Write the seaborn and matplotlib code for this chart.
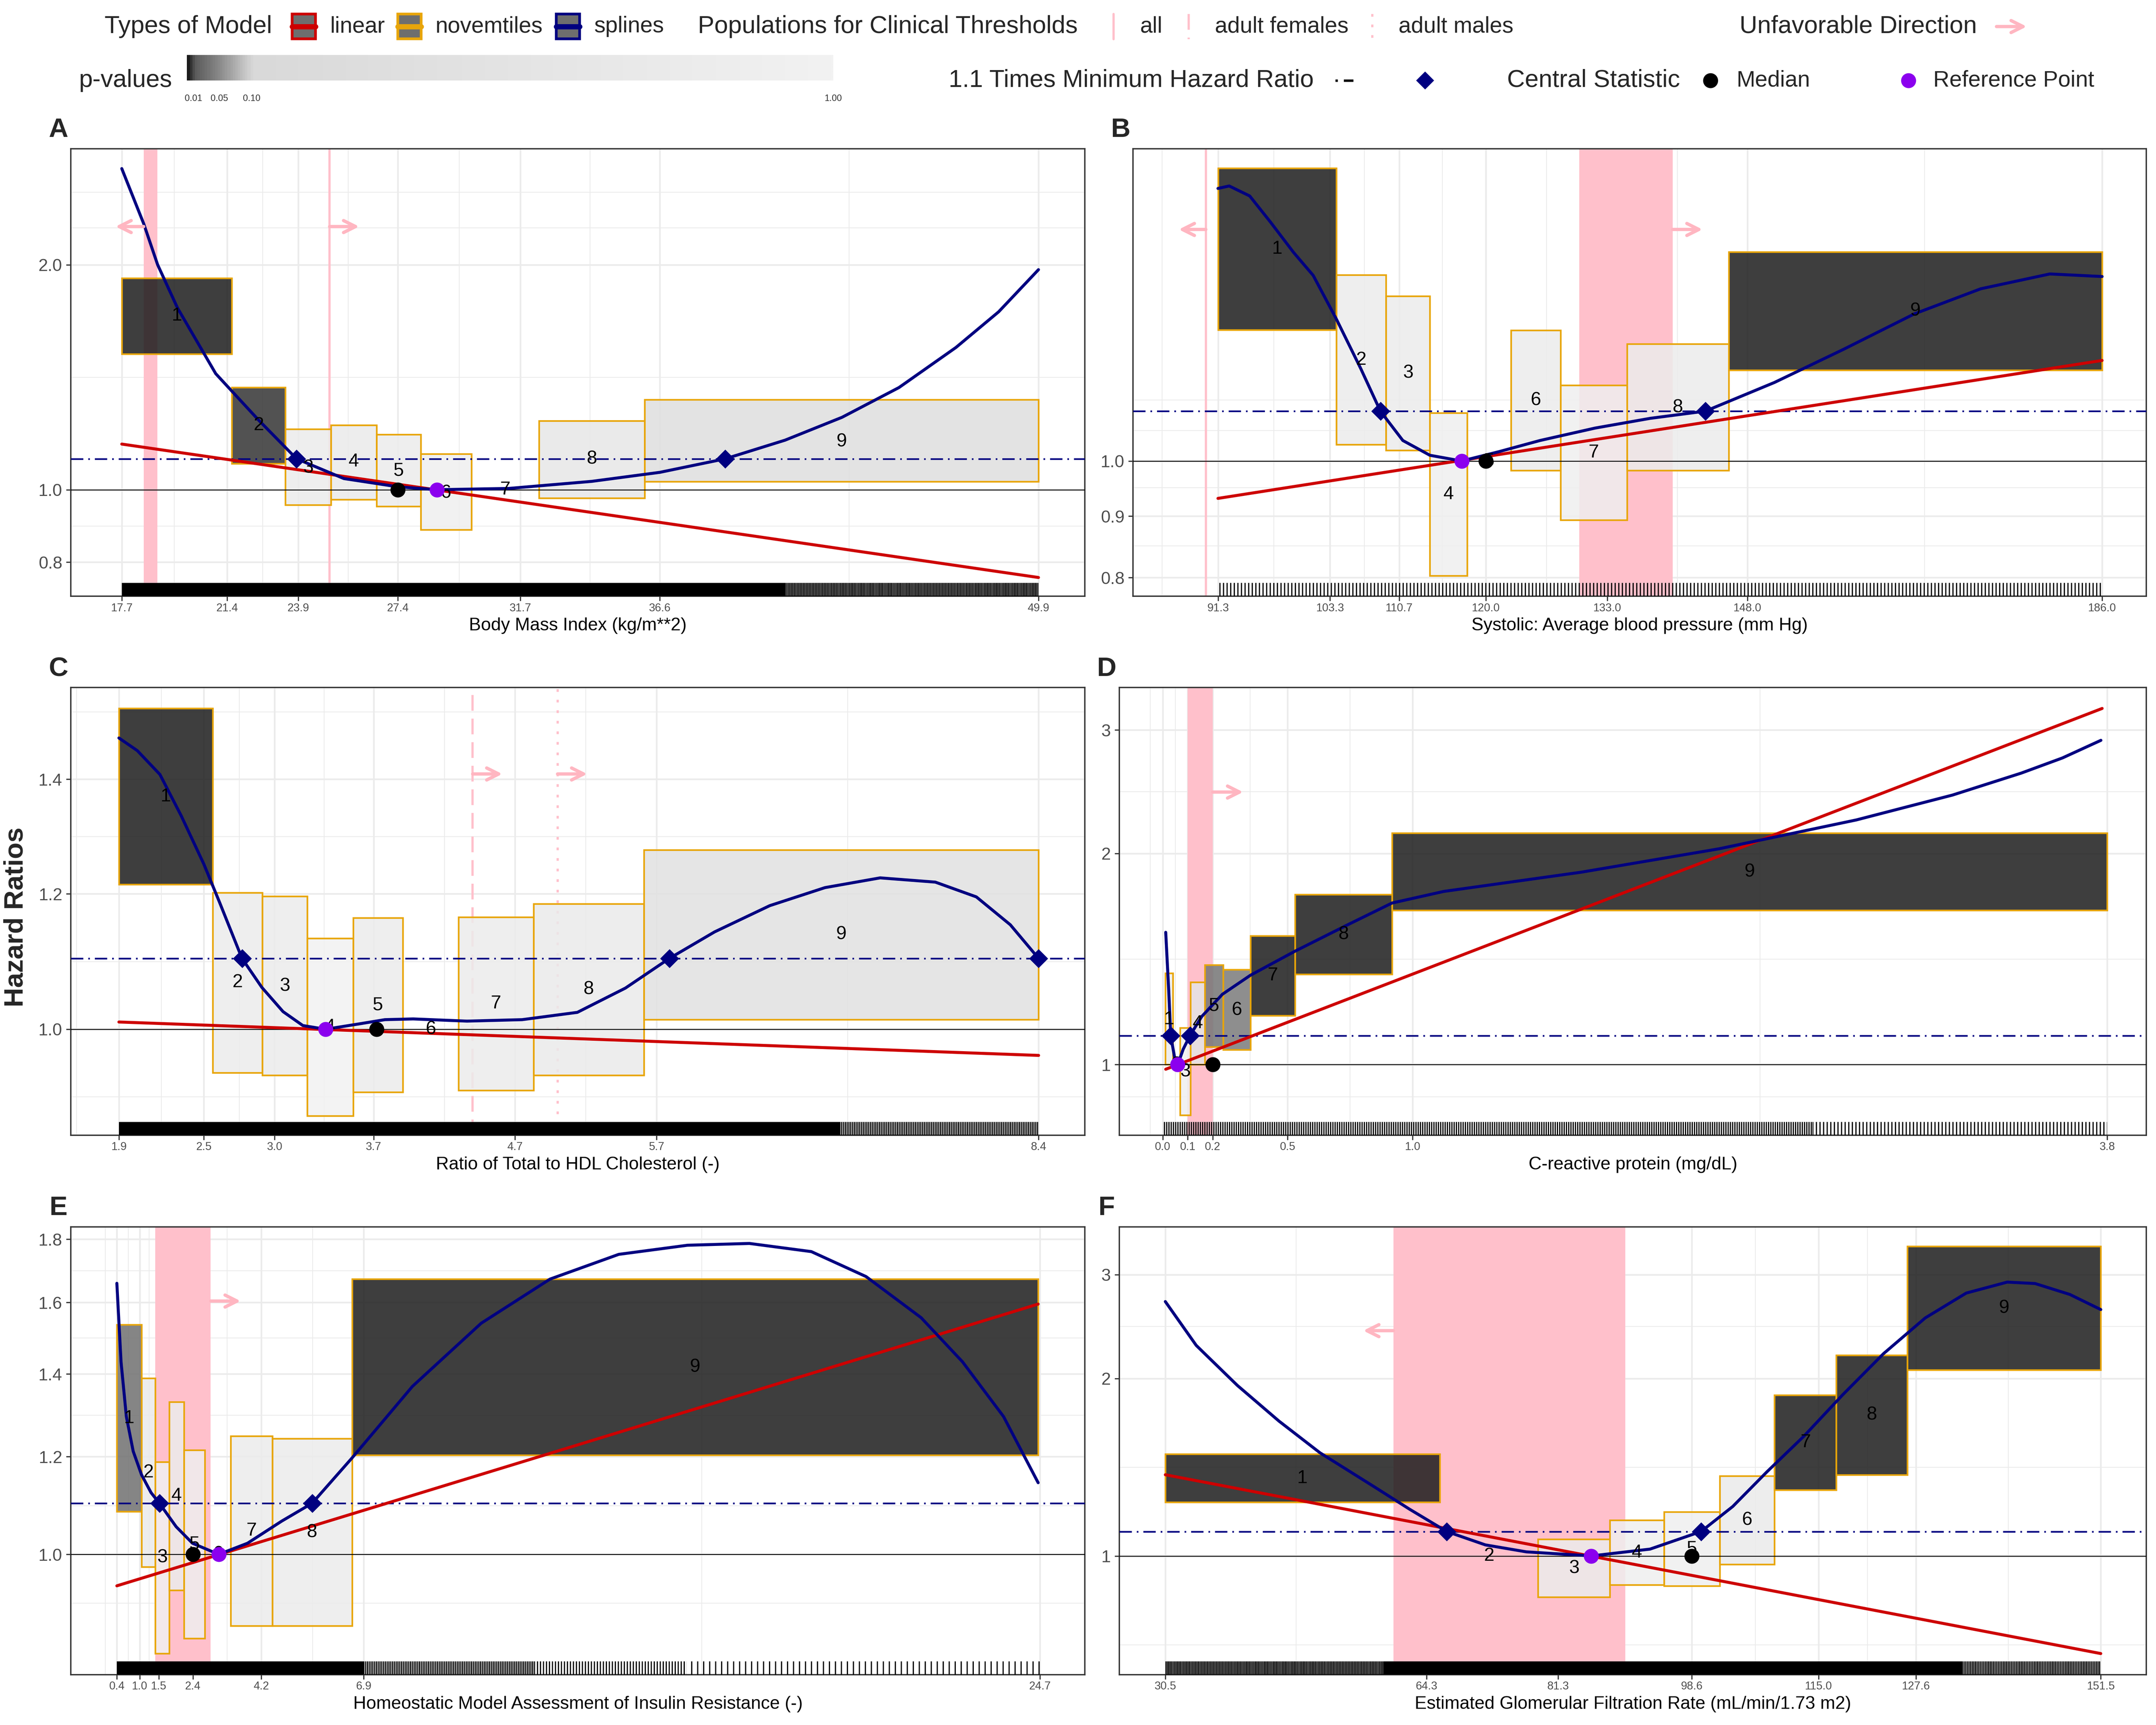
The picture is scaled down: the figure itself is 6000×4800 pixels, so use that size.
import numpy as np
import seaborn as sns
import matplotlib
matplotlib.use("Agg")
import matplotlib.pyplot as plt
from matplotlib.patches import Rectangle
from matplotlib.lines import Line2D
from matplotlib.colors import LinearSegmentedColormap, to_rgba

nan = np.nan

# ---------------- data ----------------
# A: Body Mass Index
A_cuts = [17.7, 21.57, 23.45, 25.05, 26.65, 28.2, 29.98, 32.35, 36.07, 49.9]
A_hr = [1.71, 1.22, 1.07, 1.09, 1.06, 0.99, 1.0, 1.10, 1.16]
A_lo = [1.52, 1.084, 0.954, 0.97, 0.95, 0.884, nan, 0.975, 1.026]
A_hi = [1.92, 1.37, 1.206, 1.22, 1.186, 1.117, nan, 1.237, 1.32]
A_p = [0.002, 0.006, 0.8, 0.7, 0.8, 0.9, nan, 0.6, 0.3]
A_spl_x = [17.7, 18.47, 18.96, 19.66, 21.0, 22.5, 23.84, 25.5, 27.4, 28.77, 31.3, 34.2,
           36.6, 38.9, 41.0, 43.0, 45.0, 47.0, 48.5, 49.9]
A_spl_y = [2.69, 2.27, 2.0, 1.75, 1.43, 1.24, 1.10, 1.035, 1.009, 1.0, 1.004, 1.026,
           1.055, 1.10, 1.165, 1.25, 1.37, 1.55, 1.73, 1.97]
A_lin_x = [17.7, 49.9]
A_lin_y = [1.151, 0.763]
A_median, A_ref = 27.4, 28.77
A_cross = [23.84, 38.9]
A_xticks = [17.7, 21.4, 23.9, 27.4, 31.7, 36.6, 49.9]
A_yticks = [0.8, 1.0, 2.0]
A_bands = [(18.47, 18.95)]
A_lines = [(25.0, "all")]
A_arrows = [(18.47, 17.48, 2.25), (25.0, 26.04, 2.25)]
A_rug = [(17.7, 41.0, 0), (41.0, 49.9, 12)]

# B: Systolic blood pressure
B_cuts = [91.3, 104.0, 109.3, 114.0, 118.0, 122.7, 128.0, 135.1, 146.0, 186.0]
B_hr = [1.50, 1.213, 1.183, 0.938, 1.0, 1.123, 1.016, 1.108, 1.333]
B_lo = [1.285, 1.032, 1.021, 0.803, nan, 0.982, 0.893, 0.982, 1.19]
B_hi = [1.75, 1.427, 1.371, 1.096, nan, 1.284, 1.156, 1.251, 1.492]
B_p = [0.002, 0.8, 0.8, 0.9, nan, 0.8, 0.9, 0.8, 0.002]
B_spl_x = [91.3, 92.5, 94.7, 96.9, 99.4, 101.5, 104.0, 106.6, 108.7, 111.1, 114.0, 117.4,
           121.4, 125.8, 131.7, 137.6, 143.5, 150.9, 158.3, 165.9, 173.0, 180.4, 186.0]
B_spl_y = [1.684, 1.692, 1.66, 1.58, 1.49, 1.426, 1.311, 1.193, 1.10, 1.04, 1.011, 1.0,
           1.018, 1.04, 1.065, 1.085, 1.10, 1.162, 1.238, 1.325, 1.39, 1.43, 1.423]
B_lin_x = [91.3, 186.0]
B_lin_y = [0.931, 1.212]
B_median, B_ref = 120.0, 117.4
B_cross = [108.7, 143.5]
B_xticks = [91.3, 103.3, 110.7, 120.0, 133.0, 148.0, 186.0]
B_yticks = [0.8, 0.9, 1.0]
B_bands = [(130.0, 140.0)]
B_lines = [(90.0, "all")]
B_arrows = [(90.0, 87.1, 1.557), (140.0, 143.2, 1.557)]
B_rug = [(91.3, 186.0, 5)]

# C: Ratio of total to HDL cholesterol
C_cuts = [1.9, 2.563, 2.913, 3.23, 3.555, 3.907, 4.30, 4.83, 5.61, 8.4]
C_hr = [1.368, 1.065, 1.06, 1.003, 1.033, 1.0, 1.035, 1.055, 1.136]
C_lo = [1.215, 0.943, 0.940, 0.890, 0.919, nan, 0.921, 0.940, 1.013]
C_hi = [1.54, 1.202, 1.196, 1.13, 1.162, nan, 1.163, 1.184, 1.273]
C_p = [0.001, 0.8, 0.8, 0.95, 0.8, nan, 0.8, 0.7, 0.4]
C_spl_x = [1.9, 2.03, 2.19, 2.34, 2.50, 2.61, 2.77, 2.91, 3.06, 3.20, 3.36, 3.59, 3.78,
           3.98, 4.36, 4.75, 5.14, 5.48, 5.79, 6.11, 6.50, 6.89, 7.28, 7.67, 7.96, 8.20, 8.4]
C_spl_y = [1.48, 1.455, 1.409, 1.333, 1.249, 1.187, 1.10, 1.058, 1.024, 1.005, 1.0, 1.007, 1.013,
           1.014, 1.011, 1.013, 1.023, 1.057, 1.10, 1.14, 1.181, 1.21, 1.226, 1.219, 1.195,
           1.151, 1.10]
C_lin_x = [1.9, 8.4]
C_lin_y = [1.0098, 0.9654]
C_median, C_ref = 3.72, 3.36
C_cross = [2.77, 5.79, 8.4]
C_xticks = [1.9, 2.5, 3.0, 3.7, 4.7, 5.7, 8.4]
C_yticks = [1.0, 1.2, 1.4]
C_bands = []
C_lines = [(4.4, "adult females"), (5.0, "adult males")]
C_arrows = [(4.4, 4.61, 1.41), (5.0, 5.21, 1.41)]
C_rug = [(1.9, 7.0, 0), (7.0, 8.4, 10)]

# D: C-reactive protein
D_cuts = [0.01, 0.0406, 0.0695, 0.111, 0.169, 0.242, 0.351, 0.529, 0.918, 3.78]
D_hr = [1.16, 1.0, 0.977, 1.145, 1.2125, 1.195, 1.34, 1.534, 1.884]
D_lo = [1.0, nan, 0.847, 1.0, 1.06, 1.05, 1.175, 1.346, 1.659]
D_hi = [1.35, nan, 1.128, 1.311, 1.387, 1.367, 1.527, 1.748, 2.14]
D_p = [0.7, nan, 0.9, 0.5, 0.035, 0.037, 0.002, 0.001, 0.001]
D_spl_x = [0.012, 0.024, 0.032, 0.049, 0.06, 0.082, 0.109, 0.156, 0.239, 0.351,
           0.529, 0.736, 0.918, 1.125, 1.675, 2.226, 2.776, 3.161, 3.436, 3.601, 3.755]
D_spl_y = [1.544, 1.275, 1.10, 1.017, 1.0, 1.052, 1.10, 1.171, 1.26, 1.341,
           1.451, 1.58, 1.70, 1.766, 1.881, 2.031, 2.233, 2.423, 2.604, 2.737, 2.90]
D_lin_x = [0.012, 3.76]
D_lin_y = [0.985, 3.22]
D_median, D_ref = 0.2, 0.06
D_cross = [0.032, 0.109]
D_xticks = [0.0, 0.1, 0.2, 0.5, 1.0, 3.78]
D_yticks = [1, 2, 3]
D_bands = [(0.1, 0.2)]
D_lines = []
D_arrows = [(0.2, 0.322, 2.447)]
D_rug = [(0.0, 2.6, 8), (2.6, 3.78, 5)]

# E: HOMA insulin resistance
E_cuts = [0.4, 1.05, 1.41, 1.775, 2.17, 2.72, 3.40, 4.49, 6.59, 24.65]
E_hr = [1.289, 1.165, 0.994, 1.115, 1.019, 1.0, 1.045, 1.042, 1.418]
E_lo = [1.083, 0.977, 0.831, 0.935, 0.855, nan, 0.875, 0.875, 1.203]
E_hi = [1.535, 1.389, 1.188, 1.329, 1.215, nan, 1.247, 1.241, 1.671]
E_p = [0.03, 0.7, 0.95, 0.8, 0.9, nan, 0.8, 0.8, 0.001]
E_spl_x = [0.4, 0.51, 0.65, 0.83, 1.05, 1.30, 1.52, 1.96, 2.39, 3.08, 3.84, 4.74, 5.54, 6.59,
           8.18, 9.99, 11.8, 13.61, 15.42, 17.05, 18.68, 20.12, 21.57, 22.66, 23.74, 24.65]
E_spl_y = [1.658, 1.432, 1.293, 1.212, 1.16, 1.122, 1.10, 1.053, 1.021, 1.0, 1.021, 1.064, 1.10, 1.197,
           1.368, 1.539, 1.671, 1.75, 1.78, 1.786, 1.759, 1.679, 1.555, 1.432, 1.293, 1.143]
E_lin_x = [0.4, 24.65]
E_lin_y = [0.943, 1.595]
E_median, E_ref = 2.4, 3.08
E_cross = [1.52, 5.54]
E_xticks = [0.4, 1.0, 1.5, 2.4, 4.2, 6.9, 24.7]
E_yticks = [1.0, 1.2, 1.4, 1.6, 1.8]
E_bands = [(1.41, 2.87)]
E_lines = []
E_arrows = [(2.87, 3.66, 1.604)]
E_rug = [(0.4, 6.9, 0), (6.9, 11.4, 10), (11.4, 15.4, 6), (15.4, 24.7, 3)]

# F: eGFR
F_cuts = [30.5, 66.0, 78.7, 88.0, 95.0, 102.2, 109.3, 117.3, 126.5, 151.5]
F_hr = [1.355, 1.0, 0.953, 1.013, 1.028, 1.15, 1.558, 1.734, 2.63]
F_lo = [1.233, nan, 0.851, 0.893, 0.889, 0.968, 1.294, 1.373, 2.066]
F_hi = [1.488, nan, 1.067, 1.15, 1.188, 1.366, 1.875, 2.19, 3.35]
F_p = [0.002, nan, 0.8, 0.9, 0.9, 0.7, 0.001, 0.001, 0.001]
F_spl_x = [30.5, 34.5, 39.8, 45.2, 50.5, 57.6, 62.1, 66.9, 71.9, 77.2, 85.6, 93.2, 99.8, 103.9,
           108.3, 113.1, 118.1, 123.4, 128.8, 134.1, 139.4, 143.0, 147.5, 151.5]
F_spl_y = [2.70, 2.275, 1.947, 1.693, 1.496, 1.308, 1.20, 1.10, 1.044, 1.016, 1.0, 1.027, 1.10, 1.213,
           1.388, 1.596, 1.875, 2.203, 2.533, 2.791, 2.913, 2.897, 2.776, 2.617]
F_lin_x = [30.5, 151.5]
F_lin_y = [1.373, 0.683]
F_median, F_ref = 98.6, 85.6
F_cross = [66.9, 99.8]
F_xticks = [30.5, 64.3, 81.3, 98.6, 115.0, 127.6, 151.5]
F_yticks = [1, 2, 3]
F_bands = [(60.0, 90.0)]
F_lines = []
F_arrows = [(60.0, 56.1, 2.41)]
F_rug = [(30.5, 58.7, 12), (58.7, 133.7, 0), (133.7, 151.5, 11)]

panels = {
    "A": dict(xlabel="Body Mass Index (kg/m**2)", cuts=A_cuts, hr=A_hr, lo=A_lo, hi=A_hi, p=A_p,
              sx=A_spl_x, sy=A_spl_y, lx=A_lin_x, ly=A_lin_y, median=A_median, ref=A_ref,
              cross=A_cross, xticks=A_xticks, yticks=A_yticks, bands=A_bands, lines=A_lines,
              arrows=A_arrows, rug=A_rug),
    "B": dict(xlabel="Systolic: Average blood pressure (mm Hg)", cuts=B_cuts, hr=B_hr, lo=B_lo, hi=B_hi,
              p=B_p, sx=B_spl_x, sy=B_spl_y, lx=B_lin_x, ly=B_lin_y, median=B_median, ref=B_ref,
              cross=B_cross, xticks=B_xticks, yticks=B_yticks, bands=B_bands, lines=B_lines,
              arrows=B_arrows, rug=B_rug),
    "C": dict(xlabel="Ratio of Total to HDL Cholesterol (-)", cuts=C_cuts, hr=C_hr, lo=C_lo, hi=C_hi,
              p=C_p, sx=C_spl_x, sy=C_spl_y, lx=C_lin_x, ly=C_lin_y, median=C_median, ref=C_ref,
              cross=C_cross, xticks=C_xticks, yticks=C_yticks, bands=C_bands, lines=C_lines,
              arrows=C_arrows, rug=C_rug),
    "D": dict(xlabel="C-reactive protein (mg/dL)", cuts=D_cuts, hr=D_hr, lo=D_lo, hi=D_hi, p=D_p,
              sx=D_spl_x, sy=D_spl_y, lx=D_lin_x, ly=D_lin_y, median=D_median, ref=D_ref,
              cross=D_cross, xticks=D_xticks, yticks=D_yticks, bands=D_bands, lines=D_lines,
              arrows=D_arrows, rug=D_rug),
    "E": dict(xlabel="Homeostatic Model Assessment of Insulin Resistance (-)", cuts=E_cuts, hr=E_hr,
              lo=E_lo, hi=E_hi, p=E_p, sx=E_spl_x, sy=E_spl_y, lx=E_lin_x, ly=E_lin_y,
              median=E_median, ref=E_ref, cross=E_cross, xticks=E_xticks, yticks=E_yticks,
              bands=E_bands, lines=E_lines, arrows=E_arrows, rug=E_rug),
    "F": dict(xlabel="Estimated Glomerular Filtration Rate (mL/min/1.73 m2)", cuts=F_cuts, hr=F_hr,
              lo=F_lo, hi=F_hi, p=F_p, sx=F_spl_x, sy=F_spl_y, lx=F_lin_x, ly=F_lin_y,
              median=F_median, ref=F_ref, cross=F_cross, xticks=F_xticks, yticks=F_yticks,
              bands=F_bands, lines=F_lines, arrows=F_arrows, rug=F_rug),
}

# ---------------- layout / style ----------------
W, H = 1568, 1254   # reference pixel grid used for placement
LAYOUT = [
    ("A", (51.5, 108.1, 789, 433.5), (15.91, 51.53), (0.72, 2.86), [0.894, 1.414, 2.24, 2.5], "{:.1f}"),
    ("B", (824, 108.1, 1561, 433.5), (82.2, 190.74), (0.772, 1.817), [0.85, 0.95, 1.06, 1.124], "{:.1f}"),
    ("C", (51.5, 499.8, 789, 825.3), (1.56, 8.727), (0.867, 1.584), [0.913, 1.095, 1.296, 1.533], "{:.1f}"),
    ("D", (814, 499.8, 1561, 825.3), (-0.174, 3.937), (0.793, 3.449), [0.9, 1.414, 2.449], "{:.0f}"),
    ("E", (51.5, 891.9, 789, 1217.4), (-0.812, 25.88), (0.799, 1.842), [0.913, 1.095, 1.296, 1.497, 1.697], "{:.1f}"),
    ("F", (814, 891.9, 1561, 1217.4), (24.54, 157.4), (0.629, 3.614), [0.707, 1.414, 2.449], "{:.0f}"),
]

NAVY, RED, ORANGE, PURPLE = "#000080", "#CD0000", "#E8A50A", "#8B00EE"
PINK, ARROWPINK = "#FFC0CB", "#FFB6C1"
LINESTYLES = {"all": "-", "adult females": (0, (7, 3.5)), "adult males": (0, (1.2, 3.5))}
PCMAP = LinearSegmentedColormap.from_list(
    "pv", [(0, "#1c1c1c"), (0.01, "#5a5a5a"), (0.05, "#8c8c8c"), (0.10, "#d9d9d9"), (1.0, "#f2f2f2")])

sns.set_theme(style="white")
plt.rcParams["font.family"] = ["Liberation Sans", "DejaVu Sans"]
plt.rcParams["hatch.linewidth"] = 0.8
plt.rcParams["hatch.color"] = "black"

fig = plt.figure(figsize=(20, 16), dpi=300)
fig.patch.set_facecolor("white")


def fig_rect(l, t, r, b):
    return [l / W, 1 - b / H, (r - l) / W, (b - t) / H]


def draw_panel(ax, d, xlim, ylim, yminor, yfmt):
    ax.set_yscale("log")
    ax.set_facecolor("white")

    # clinical thresholds
    for lo, hi in d["bands"]:
        ax.axvspan(lo, hi, color=PINK, lw=0, zorder=1)
    for x, pop in d["lines"]:
        ax.axvline(x, color=PINK, lw=1.5, ls=LINESTYLES[pop], zorder=1.2)

    # novemtile boxes
    for i in range(9):
        x0, x1 = d["cuts"][i], d["cuts"][i + 1]
        if not np.isnan(d["lo"][i]):
            ax.add_patch(Rectangle((x0, d["lo"][i]), x1 - x0, d["hi"][i] - d["lo"][i],
                                   facecolor=to_rgba(PCMAP(d["p"][i]), 0.85),
                                   edgecolor=ORANGE, lw=1.1, zorder=2))
        ax.text((x0 + x1) / 2, d["hr"][i], str(i + 1), ha="center", va="center",
                fontsize=12.5, color="black", zorder=4.6)

    thr = 1.1 * min(d["sy"])
    ax.axhline(1.0, color="black", lw=0.6, zorder=3)
    ax.axhline(thr, color=NAVY, lw=1.1, ls=(0, (7.5, 3, 1, 3)), zorder=3)

    sns.lineplot(x=d["lx"], y=d["ly"], ax=ax, color=RED, linewidth=2.0, errorbar=None,
                 legend=False, zorder=4)
    sns.lineplot(x=d["sx"], y=d["sy"], ax=ax, color=NAVY, linewidth=2.0, errorbar=None,
                 legend=False, zorder=4.3, solid_joinstyle="round")

    sns.scatterplot(x=d["cross"], y=[thr] * len(d["cross"]), ax=ax, color=NAVY, marker="D",
                    s=80, linewidth=0, legend=False, zorder=5)
    sns.scatterplot(x=[d["median"]], y=[1.0], ax=ax, color="black", s=100, linewidth=0,
                    legend=False, zorder=5)
    sns.scatterplot(x=[d["ref"]], y=[1.0], ax=ax, color=PURPLE, s=100, linewidth=0,
                    legend=False, zorder=5.1)

    # unfavourable direction arrows
    for x0, x1, y in d["arrows"]:
        an = ax.annotate("", xy=(x1, y), xytext=(x0, y),
                         arrowprops=dict(arrowstyle="->", color=ARROWPINK, lw=2.2,
                                         mutation_scale=20, shrinkA=0, shrinkB=0))
        an.set_zorder(4.8)

    # rug
    tr = ax.get_xaxis_transform()
    for lo, hi, dens in d["rug"]:
        if dens == 0:
            ax.add_patch(Rectangle((lo, 0), hi - lo, 0.03, transform=tr, facecolor="black",
                                   lw=0, zorder=7))
        else:
            ax.add_patch(Rectangle((lo, 0), hi - lo, 0.03, transform=tr, facecolor="none",
                                   edgecolor="black", hatch="|" * dens, lw=0, zorder=7))

    # axes / grid
    xt = d["xticks"]
    ax.set_xticks(xt, [f"{v:.1f}" for v in xt])
    mids = [(a + b) / 2 for a, b in zip(xt[:-1], xt[1:])]
    mids = [xt[0] - (xt[1] - xt[0]) / 2] + mids + [xt[-1] + (xt[-1] - xt[-2]) / 2]
    mids = [m for m in mids if xlim[0] < m < xlim[1]]
    ax.set_xticks(mids, [""] * len(mids), minor=True)
    ax.set_yticks(d["yticks"], [yfmt.format(v) for v in d["yticks"]])
    ax.set_yticks(yminor, [""] * len(yminor), minor=True)
    ax.grid(which="major", color="#EBEBEB", lw=1.1)
    ax.grid(which="minor", color="#EBEBEB", lw=0.55)
    ax.set_axisbelow(True)
    ax.tick_params(which="minor", length=0)
    ax.tick_params(axis="x", which="major", labelsize=7.5, length=3.2, width=0.8,
                   color="#333333", labelcolor="#4D4D4D", pad=1.2, bottom=True)
    ax.tick_params(axis="y", which="major", labelsize=11.5, length=3.2, width=0.8,
                   color="#333333", labelcolor="#4D4D4D", pad=2.5, left=True)
    for s in ax.spines.values():
        s.set_color("#333333")
        s.set_linewidth(0.9)
    ax.set_xlabel(d["xlabel"], fontsize=12, labelpad=2.5, color="black")
    ax.set_ylabel("")
    ax.set_xlim(*xlim)
    ax.set_ylim(*ylim)


for key, rect, xlim, ylim, yminor, yfmt in LAYOUT:
    ax = fig.add_axes(fig_rect(*rect))
    draw_panel(ax, panels[key], xlim, ylim, yminor, yfmt)

# ---------------- overlay: legend, panel letters, shared y label ----------------
lg = fig.add_axes([0, 0, 1, 1])
lg.axis("off")

for key, rect, *_ in LAYOUT:
    lg.text(rect[0] - 9, rect[1] - 13.6, key, fontsize=18, fontweight="bold",
            ha="center", va="center")
lg.text(11.5, 666.6, "Hazard Ratios", rotation=90, fontsize=18, fontweight="bold",
        ha="center", va="center")

TITLE, LABEL = 16.5, 15
r1, r2 = 19.3, 58.5
lg.text(76, r1, "Types of Model", fontsize=TITLE, va="center")
for x0, col, lab in [(212.5, RED, "linear"), (289.3, ORANGE, "novemtiles"), (404.5, NAVY, "splines")]:
    lg.add_patch(Rectangle((x0, 10.3), 17, 18, facecolor="#6E6E6E", edgecolor=col, lw=1.8))
    lg.add_line(Line2D([x0, x0 + 17], [r1, r1], color=col, lw=3.5))
    lg.text(x0 + 27.5, r1, lab, fontsize=LABEL, va="center")

lg.text(507.5, r1, "Populations for Clinical Thresholds", fontsize=TITLE, va="center")
for x0, lab in [(810, "all"), (864.5, "adult females"), (998, "adult males")]:
    lg.add_line(Line2D([x0, x0], [10.3, 28.4], color=PINK, lw=1.5, ls=LINESTYLES[lab]))
    lg.text(x0 + 19, r1, lab, fontsize=LABEL, va="center")

lg.text(1265, r1, "Unfavorable Direction", fontsize=TITLE, va="center")
lg.annotate("", xy=(1474, r1), xytext=(1452, r1),
            arrowprops=dict(arrowstyle="->", color=ARROWPINK, lw=2.2, mutation_scale=20,
                            shrinkA=0, shrinkB=0))

lg.text(57.5, r2, "p-values", fontsize=TITLE, va="center")
lg.imshow(np.linspace(0, 1, 800)[None, :], extent=(136, 606, 58.4, 40), cmap=PCMAP,
          aspect="auto", interpolation="bilinear")
for v, lab in [(0.01, "0.01"), (0.05, "0.05"), (0.10, "0.10"), (1.0, "1.00")]:
    lg.text(136 + v * 470, 71.5, lab, fontsize=6, ha="center", va="center", color="#333333")

lg.text(690, r2, "1.1 Times Minimum Hazard Ratio", fontsize=TITLE, va="center")
lg.add_line(Line2D([971, 986], [r2, r2], color="black", lw=1.6, ls=(0, (1, 2.5, 4, 2.5))))
lg.plot([1036.5], [r2], marker="D", ms=8.5, color=NAVY, mew=0)
lg.text(1096, r2, "Central Statistic", fontsize=TITLE, va="center")
lg.plot([1244], [r2], marker="o", ms=10, color="black", mew=0)
lg.text(1263, r2, "Median", fontsize=LABEL, va="center")
lg.plot([1388], [r2], marker="o", ms=10, color=PURPLE, mew=0)
lg.text(1406, r2, "Reference Point", fontsize=LABEL, va="center")

lg.set_xlim(0, W)
lg.set_ylim(H, 0)

fig.savefig("out.png", dpi=300, facecolor="white")
